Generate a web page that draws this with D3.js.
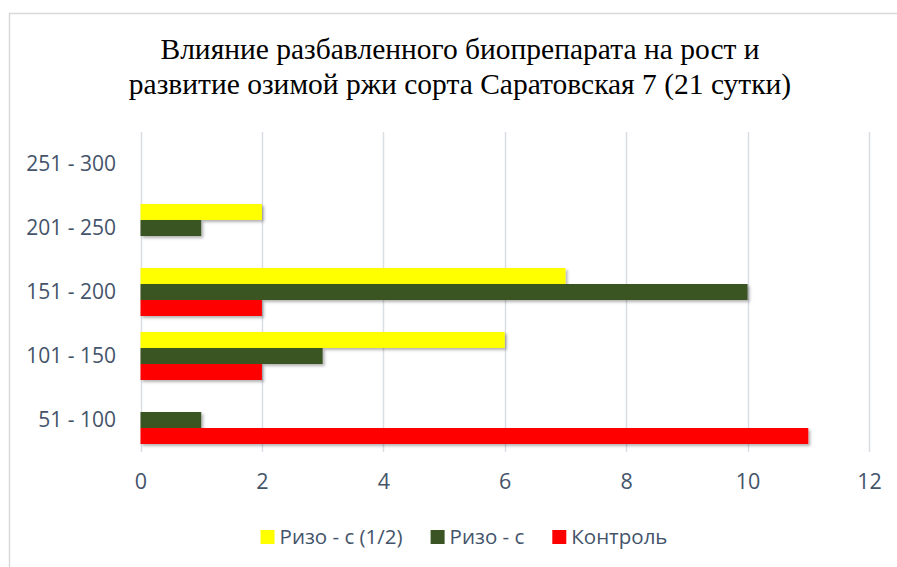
<!DOCTYPE html>
<html>
<head>
<meta charset="utf-8">
<script src="https://cdn.jsdelivr.net/npm/d3@7"></script>
<style>
  body { margin: 0; background: #fff; }
  svg { display: block; }
</style>
</head>
<body>
<svg></svg>
<script>
const width = 897;
const height = 567;

// data
const categories = ["51 - 100", "101 - 150", "151 - 200", "201 - 250", "251 - 300"];
const seriesNames = ["Ризо - с (1/2)", "Ризо - с", "Контроль"];
const seriesColors = ["#FFFF00", "#3A5424", "#FF0000"];
const rizoHalf = [0, 6, 7, 2, 0];
const rizo = [1, 3, 10, 1, 0];
const control = [11, 2, 2, 0, 0];
const xTicks = [0, 2, 4, 6, 8, 10, 12];
const titleLines = [
  "Влияние разбавленного биопрепарата на рост и",
  "развитие озимой ржи сорта Саратовская 7 (21 сутки)",
];

const seriesValues = [rizoHalf, rizo, control];
const rows = categories.map((c, i) => ({
  cat: c,
  values: seriesValues.map((s, k) => ({ key: k, value: s[i] })),
}));

const labelColor = "#44546A";
const gridColor = "#D9DEE5";
const sans = "'Open Sans', sans-serif";

const svg = d3.select("svg").attr("width", width).attr("height", height);

// drop shadow like the office bars
const defs = svg.append("defs");
const shadow = defs.append("filter").attr("id", "shadow")
  .attr("x", "-5%").attr("y", "-30%").attr("width", "115%").attr("height", "170%");
shadow.append("feDropShadow")
  .attr("dx", 2).attr("dy", 2).attr("stdDeviation", 1.5)
  .attr("flood-color", "#000").attr("flood-opacity", 0.3);

// chart border
svg.append("rect")
  .attr("x", 9.5).attr("y", 13.5)
  .attr("width", 900).attr("height", 570)
  .attr("fill", "#fff")
  .attr("stroke", "#D9D9D9")
  .attr("stroke-width", 1.5);

// title
svg.append("text")
  .attr("text-anchor", "middle")
  .attr("font-family", "'Liberation Serif', 'Times New Roman', serif")
  .attr("font-size", 29.5)
  .attr("fill", "#000")
  .selectAll("tspan")
  .data(titleLines)
  .join("tspan")
  .attr("x", 460)
  .attr("y", (d, i) => 59 + i * 35)
  .text((d) => d);

const x = d3.scaleLinear().domain([0, 12]).range([140.5, 869]);

// categories go bottom -> top
const y0 = d3.scaleBand()
  .domain(categories.slice().reverse())
  .range([132, 452])
  .paddingInner(0.25)
  .paddingOuter(0.125);

const y1 = d3.scaleBand()
  .domain(d3.range(seriesNames.length))
  .range([0, y0.bandwidth()]);

// gridlines
svg.append("g")
  .selectAll("line")
  .data(xTicks)
  .join("line")
  .attr("x1", (d) => Math.round(x(d)) + 0.5)
  .attr("x2", (d) => Math.round(x(d)) + 0.5)
  .attr("y1", 132)
  .attr("y2", 452)
  .attr("stroke", gridColor)
  .attr("stroke-width", 1.5);

// x axis labels
const xAxis = svg.append("g")
  .attr("transform", "translate(0,452)")
  .call(d3.axisBottom(x).tickValues(xTicks).tickSize(0).tickPadding(22));
xAxis.select(".domain").remove();
xAxis.selectAll("text")
  .attr("font-family", sans)
  .attr("font-size", 21.5)
  .attr("fill", labelColor);

// y axis labels
const yAxis = svg.append("g")
  .attr("transform", "translate(140,0)")
  .call(d3.axisLeft(y0).tickSize(0).tickPadding(24));
yAxis.select(".domain").remove();
yAxis.selectAll("text")
  .attr("font-family", sans)
  .attr("font-size", 21)
  .attr("fill", labelColor);

// bars
svg.append("g")
  .selectAll("g")
  .data(rows)
  .join("g")
  .attr("transform", (d) => `translate(0,${y0(d.cat)})`)
  .selectAll("rect")
  .data((d) => d.values.filter((v) => v.value > 0))
  .join("rect")
  .attr("x", x(0))
  .attr("y", (d) => y1(d.key))
  .attr("width", (d) => x(d.value) - x(0))
  .attr("height", y1.bandwidth())
  .attr("fill", (d) => seriesColors[d.key])
  .attr("filter", "url(#shadow)");

// legend
const legend = svg.append("g")
  .attr("font-family", sans)
  .attr("font-size", 20.5)
  .attr("fill", labelColor);
const items = legend.selectAll("g")
  .data(seriesNames)
  .join("g");
items.append("rect")
  .attr("width", 14).attr("height", 14)
  .attr("y", 530)
  .attr("fill", (d, i) => seriesColors[i]);
items.append("text")
  .attr("x", 19)
  .attr("y", 544)
  .text((d) => d);
let cx = 0;
const offsets = [];
items.each(function () {
  offsets.push(cx);
  cx += 19 + this.querySelector("text").getComputedTextLength() + 28;
});
const total = cx - 28;
const startX = 464 - total / 2;
items.attr("transform", (d, i) => `translate(${startX + offsets[i]},0)`);
</script>
</body>
</html>
